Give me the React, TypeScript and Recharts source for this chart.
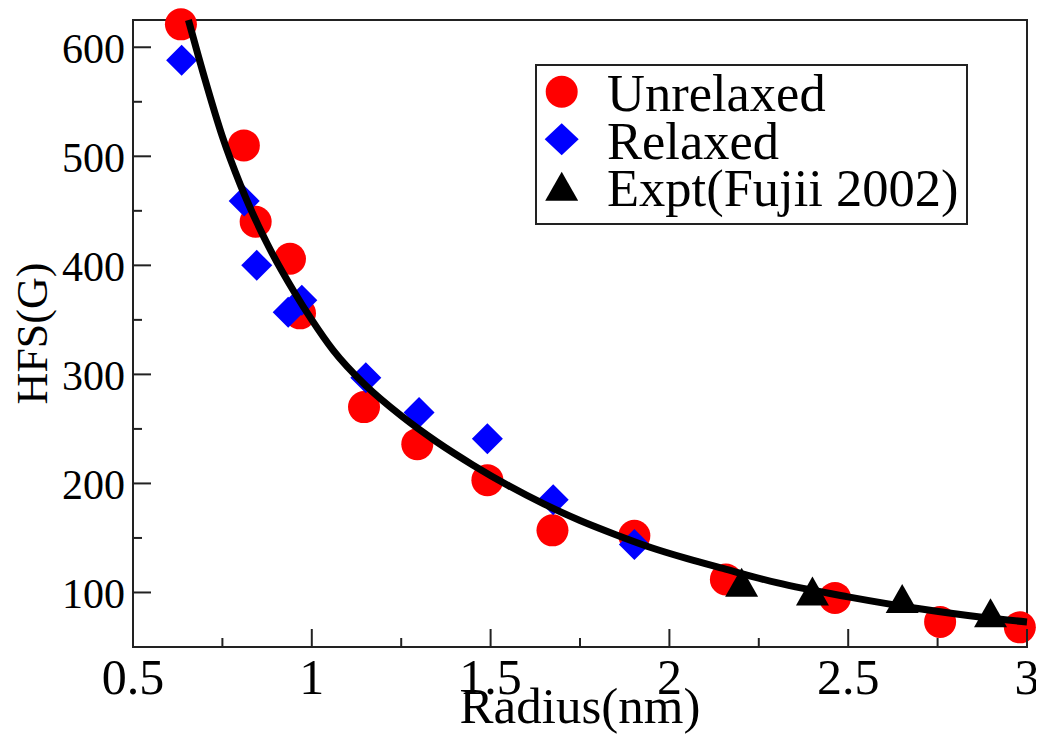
import React from 'react';
import { ScatterChart, Scatter, XAxis, YAxis, ReferenceArea } from 'recharts';

// values
const unrelaxedR = [0.634, 0.81, 0.843, 0.939, 0.967, 1.146, 1.295, 1.491, 1.673, 1.902, 2.158, 2.463, 2.757, 2.98];
const unrelaxedHfs = [621, 510, 440, 406, 356, 270, 236, 203, 157, 152, 112, 95, 73, 68];

const relaxedR = [0.636, 0.811, 0.846, 0.934, 0.972, 1.151, 1.3, 1.491, 1.675, 1.902];
const relaxedHfs = [588, 459, 400, 357, 368, 297, 265, 241, 185, 144];

const exptR = [2.202, 2.4, 2.651, 2.898];
const exptHfs = [109, 101, 94, 81];

const fitR = [0.655, 0.7, 0.75, 0.8, 0.875, 0.95, 1.0, 1.06, 1.15, 1.25, 1.35, 1.45, 1.55, 1.65, 1.75, 1.85, 1.95, 2.05, 2.15, 2.3, 2.5, 2.7, 2.88, 3.0];
const fitHfs = [625, 572, 518, 474, 420, 376, 350, 322, 290, 262, 238, 217, 198, 181, 166, 153, 141, 131, 122, 109, 96, 85, 77, 73];

const xMajor = [0.5, 1, 1.5, 2, 2.5, 3];
const xLabels = ['0.5', '1', '1.5', '2', '2.5', '3'];
const xMinor = [0.75, 1.25, 1.75, 2.25, 2.75];
const yMajor = [100, 200, 300, 400, 500, 600];
const yLabels = ['100', '200', '300', '400', '500', '600'];
const yMinor = [150, 250, 350, 450, 550];

const legendNames = ['Unrelaxed', 'Relaxed', 'Expt(Fujii 2002)'];

const zip = (xs: number[], ys: number[]) => xs.map((x, i) => ({ x, y: ys[i] }));

const unrelaxed = zip(unrelaxedR, unrelaxedHfs);
const relaxed = zip(relaxedR, relaxedHfs);
const expt = zip(exptR, exptHfs);
const fit = zip(fitR, fitHfs);

const FONT = 'Liberation Serif, DejaVu Serif, serif';
const AXIS = '#222';
const xTicks = [...xMajor, ...xMinor].sort((a, b) => a - b);
const yTicks = [...yMajor, ...yMinor].sort((a, b) => a - b);

const RedDot = ({ cx, cy }: any) => <circle cx={cx} cy={cy} r={16} fill="#ff0000" />;
const BlueDiamond = ({ cx, cy }: any) => (
  <polygon points={`${cx},${cy - 15.5} ${cx + 15.5},${cy} ${cx},${cy + 15.5} ${cx - 15.5},${cy}`} fill="#0000ff" />
);
const BlackTriangle = ({ cx, cy }: any) => (
  <polygon points={`${cx},${cy - 15} ${cx + 16.5},${cy + 14} ${cx - 16.5},${cy + 14}`} fill="#000" />
);
const NoMark = () => <g />;

const BottomTick = ({ x, y, payload }: any) => {
  const i = xMajor.indexOf(payload.value);
  const len = i >= 0 ? 18 : 9;
  return (
    <g>
      <line x1={x} y1={y} x2={x} y2={y - len} stroke={AXIS} strokeWidth={2} />
      {i >= 0 && (
        <text x={x} y={y + 47} textAnchor="middle" fontSize={50} style={{ fontFamily: FONT }} fill="#000">
          {xLabels[i]}
        </text>
      )}
    </g>
  );
};

const TopTick = ({ x, y, payload }: any) => {
  const len = xMajor.includes(payload.value) ? 18 : 9;
  return <line x1={x} y1={y} x2={x} y2={y + len} stroke={AXIS} strokeWidth={2} />;
};

const LeftTick = ({ x, y, payload }: any) => {
  const i = yMajor.indexOf(payload.value);
  const len = i >= 0 ? 18 : 9;
  return (
    <g>
      <line x1={x} y1={y} x2={x + len} y2={y} stroke={AXIS} strokeWidth={2} />
      {i >= 0 && (
        <text x={x - 8} y={y + 16} textAnchor="end" fontSize={42} style={{ fontFamily: FONT }} fill="#000">
          {yLabels[i]}
        </text>
      )}
    </g>
  );
};

const RightTick = ({ x, y, payload }: any) => {
  const len = yMajor.includes(payload.value) ? 18 : 9;
  return <line x1={x} y1={y} x2={x - len} y2={y} stroke={AXIS} strokeWidth={2} />;
};

const legendMarks = [
  (cx: number, cy: number) => <circle cx={cx} cy={cy} r={16} fill="#ff0000" />,
  (cx: number, cy: number) => (
    <polygon points={`${cx},${cy - 16} ${cx + 17},${cy} ${cx},${cy + 16} ${cx - 17},${cy}`} fill="#0000ff" />
  ),
  (cx: number, cy: number) => (
    <polygon points={`${cx},${cy - 15} ${cx + 16.5},${cy + 14} ${cx - 16.5},${cy + 14}`} fill="#000" />
  ),
];

const App: React.FC = () => {
  return (
    <div style={{ position: 'relative', width: 1036, height: 731, fontFamily: FONT }}>
      <ScatterChart
        width={1036}
        height={731}
        margin={{ top: 12, right: 17, bottom: 0, left: 0 }}
        style={{ fontFamily: FONT }}
      >
        <XAxis
          type="number"
          dataKey="x"
          domain={[0.5, 3]}
          ticks={xTicks}
          interval={0}
          height={92}
          axisLine={false}
          tickLine={false}
          tickSize={0}
          tickMargin={0}
          tick={<BottomTick />}
          label={{ value: 'Radius(nm)', position: 'insideBottom', offset: 16, fontSize: 51, fill: '#000', style: { fontFamily: FONT } }}
        />
        <XAxis
          xAxisId="top"
          orientation="top"
          type="number"
          domain={[0.5, 3]}
          allowDataOverflow
          ticks={xTicks}
          interval={0}
          height={0}
          axisLine={false}
          tickLine={false}
          tickSize={0}
          tickMargin={0}
          tick={<TopTick />}
        />
        <YAxis
          type="number"
          dataKey="y"
          domain={[50, 625]}
          ticks={yTicks}
          interval={0}
          width={125}
          axisLine={false}
          tickLine={false}
          tickSize={0}
          tickMargin={0}
          tick={<LeftTick />}
          label={{
            value: 'HFS(G)',
            angle: -90,
            position: 'insideLeft',
            offset: 23,
            fontSize: 44,
            fill: '#000',
            style: { textAnchor: 'middle', fontFamily: FONT },
          }}
        />
        <YAxis
          yAxisId="right"
          orientation="right"
          type="number"
          domain={[50, 625]}
          allowDataOverflow
          ticks={yTicks}
          interval={0}
          width={0}
          axisLine={false}
          tickLine={false}
          tickSize={0}
          tickMargin={0}
          tick={<RightTick />}
        />
        <ReferenceArea x1={0.5} x2={3} y1={50} y2={625} fill="none" stroke={AXIS} strokeWidth={2} />
        <Scatter name="Unrelaxed" data={unrelaxed} shape={<RedDot />} isAnimationActive={false} />
        <Scatter name="Relaxed" data={relaxed} shape={<BlueDiamond />} isAnimationActive={false} />
        <Scatter
          name="fit"
          data={fit}
          shape={<NoMark />}
          line={{ stroke: '#000', strokeWidth: 7 }}
          lineJointType="monotoneX"
          isAnimationActive={false}
        />
        <Scatter name="Expt(Fujii 2002)" data={expt} shape={<BlackTriangle />} isAnimationActive={false} />
      </ScatterChart>

      <svg width={433} height={161} style={{ position: 'absolute', left: 527, top: 56 }}>
        <rect x={1} y={1} width={431} height={159} fill="#fff" stroke={AXIS} strokeWidth={2} />
        {legendNames.map((name, i) => {
          const cy = 27.7 + i * 47.5;
          return (
            <g key={name}>
              {legendMarks[i](26.7, cy)}
              <text x={72} y={cy + 19.5} fontSize={52.5} style={{ fontFamily: FONT }} fill="#000">
                {name}
              </text>
            </g>
          );
        })}
      </svg>
    </div>
  );
};

export default App;
